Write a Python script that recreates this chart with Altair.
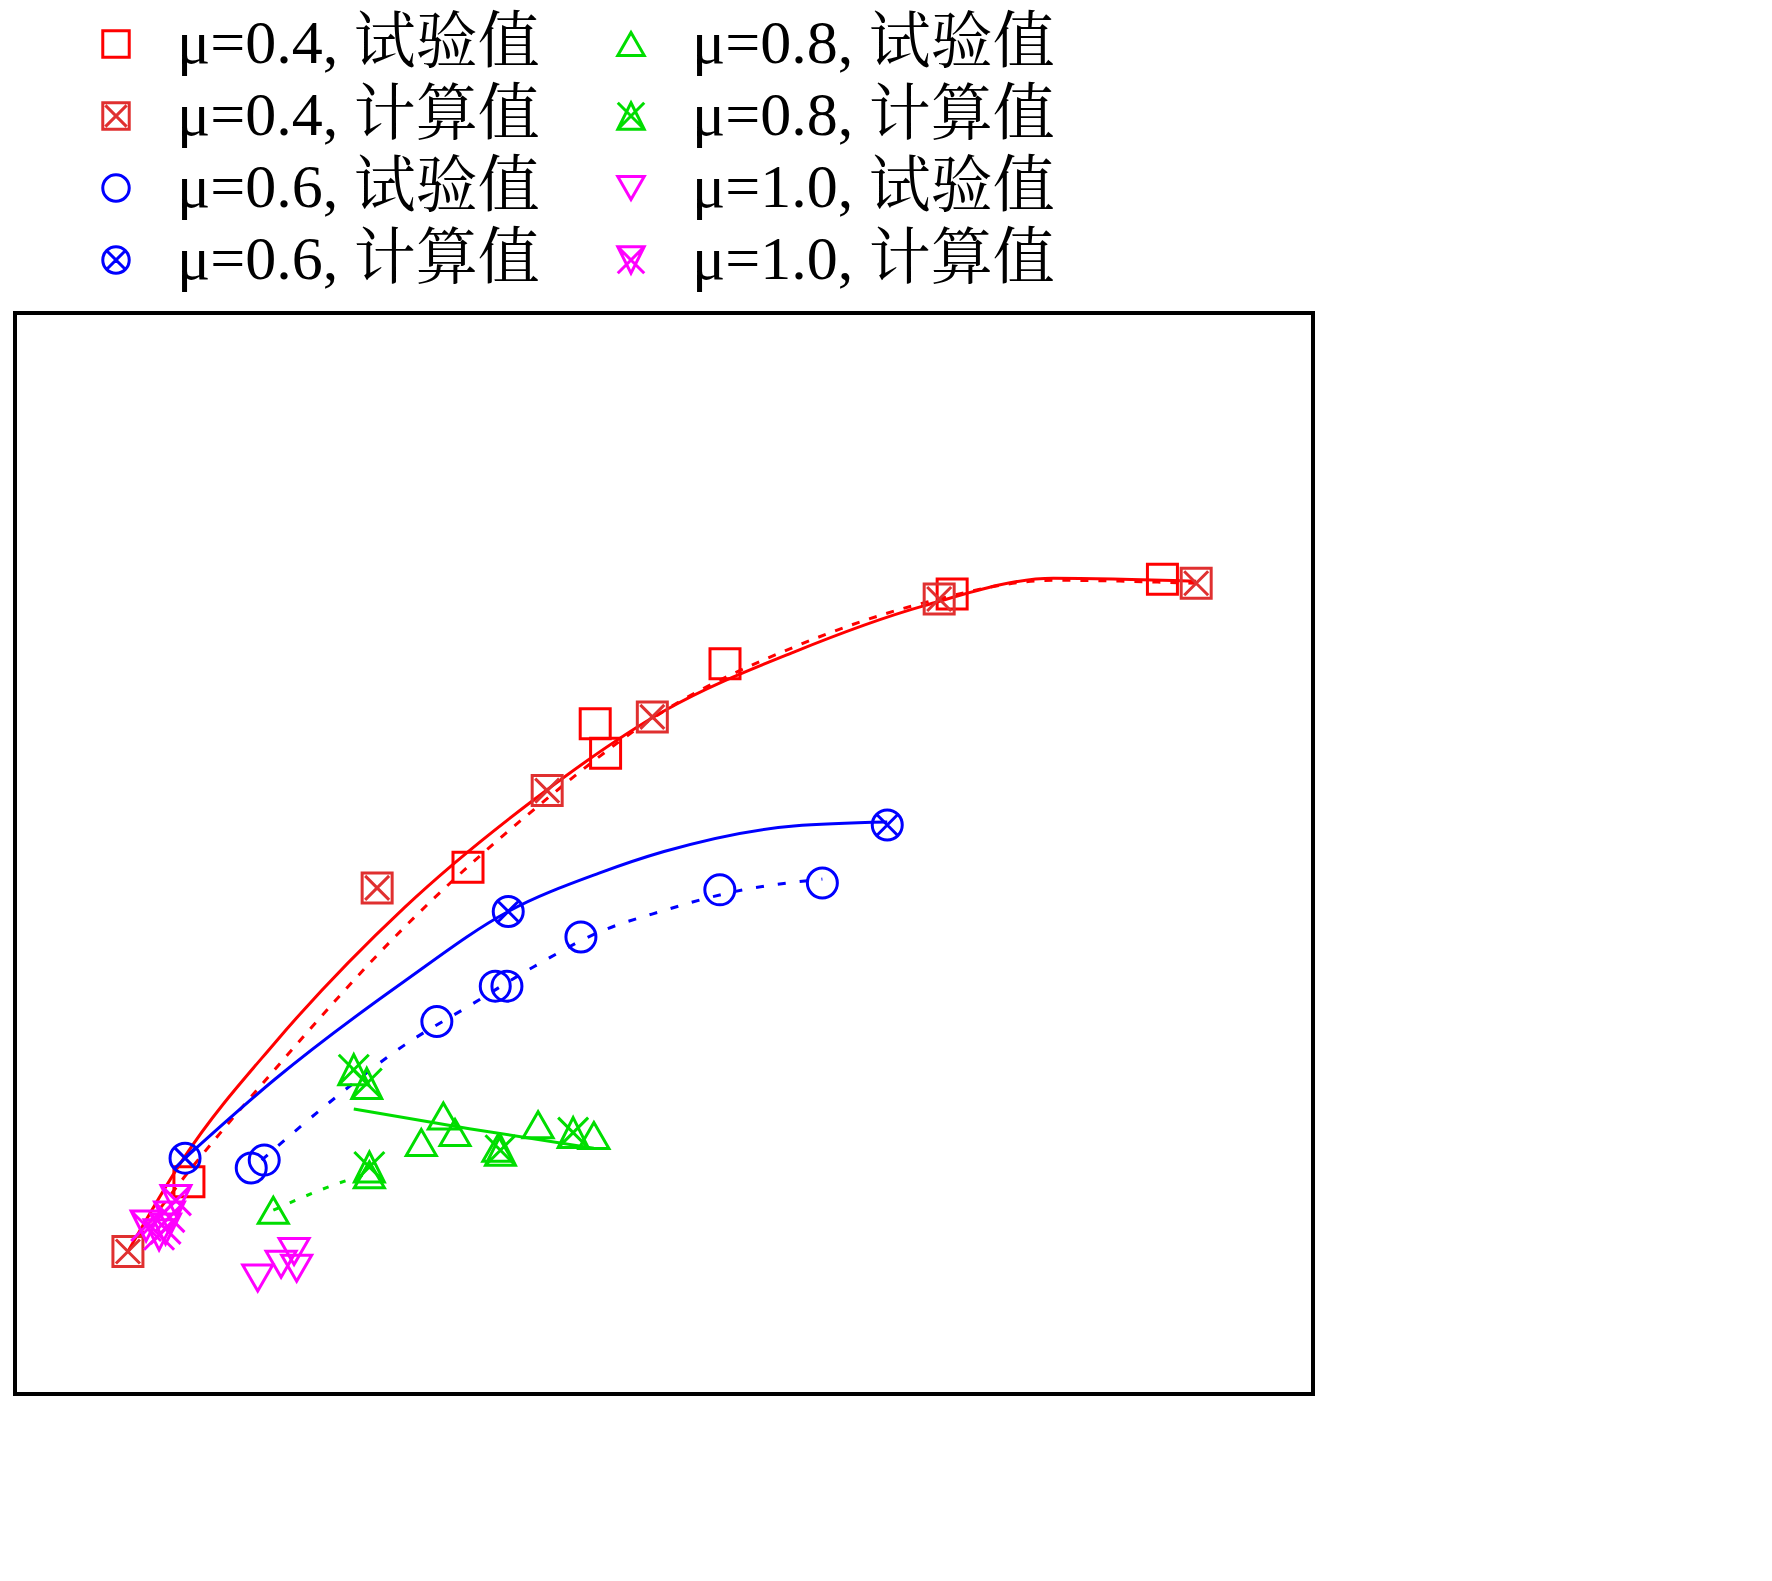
import altair as alt
import pandas as pd

FONT = "Liberation Serif, Noto Serif CJK SC, Noto Sans CJK SC"

series_names = ["μ=0.4, 试验值", "μ=0.4, 计算值", "μ=0.6, 试验值", "μ=0.6, 计算值",
                "μ=0.8, 试验值", "μ=0.8, 计算值", "μ=1.0, 试验值", "μ=1.0, 计算值"]
series_colors = ["#ff0000", "#e03030", "#0000ff", "#0000ff", "#00dd00", "#00dd00", "#ff00ff", "#ff00ff"]
X = " M-0.8,-0.8L0.8,0.8 M0.8,-0.8L-0.8,0.8"
series_shapes = [
    "M-1,-1H1V1H-1Z",
    "M-1,-1H1V1H-1Z" + X,
    "circle",
    "M-1,0A1,1 0 1,0 1,0A1,1 0 1,0 -1,0" + " M-0.7,-0.7L0.7,0.7 M0.7,-0.7L-0.7,0.7",
    "triangle-up",
    "M0,-1L1,1H-1Z M-1,-1L1,1 M1,-1L-1,1",
    "triangle-down",
    "M-1,-1H1L0,1Z M-1,-1L1,1 M1,-1L-1,1",
]

# points
r_test_x = [0.0134, 0.0349, 0.0447, 0.0455, 0.0547, 0.0722, 0.0884]
r_test_y = [2.16, 5.36, 6.82, 6.52, 7.43, 8.14, 8.29]
r_calc_x = [0.0087, 0.0279, 0.0410, 0.0491, 0.0712, 0.0910]
r_calc_y = [1.45, 5.15, 6.14, 6.89, 8.09, 8.25]
b_test_x = [0.0182, 0.0192, 0.0325, 0.0370, 0.0379, 0.0436, 0.0543, 0.0622]
b_test_y = [2.30, 2.38, 3.79, 4.15, 4.15, 4.65, 5.13, 5.20]
b_calc_x = [0.0131, 0.0380, 0.0672]
b_calc_y = [2.40, 4.91, 5.79]
g_test_x = [0.0199, 0.0273, 0.0313, 0.0330, 0.0339, 0.0372, 0.0403, 0.0446]
g_test_y = [1.87, 2.23, 2.56, 2.83, 2.66, 2.50, 2.74, 2.63]
g_calc_x = [0.0261, 0.0271, 0.0273, 0.0374, 0.0430]
g_calc_y = [3.30, 3.16, 2.31, 2.48, 2.66]
m_test_x = [0.0187, 0.0205, 0.0215, 0.0217]
m_test_y = [1.18, 1.32, 1.45, 1.28]
m_calc_x = [0.0101, 0.0111, 0.0116, 0.0119, 0.0124]
m_calc_y = [1.71, 1.62, 1.68, 1.80, 1.97]

# fitted lines
r_fit_x = [0.0087, 0.013, 0.020, 0.030, 0.040, 0.050, 0.060, 0.070, 0.080, 0.091]
r_fit_y = [1.45, 2.40, 3.57, 4.95, 6.05, 6.95, 7.55, 8.02, 8.30, 8.27]
r_dash_x = [0.0087, 0.013, 0.020, 0.030, 0.040, 0.050, 0.060, 0.070, 0.080, 0.091]
r_dash_y = [1.45, 2.20, 3.30, 4.75, 5.95, 6.95, 7.60, 8.05, 8.28, 8.25]
b_fit_x = [0.0131, 0.020, 0.030, 0.038, 0.045, 0.050, 0.060, 0.0672]
b_fit_y = [2.40, 3.20, 4.20, 4.91, 5.30, 5.52, 5.78, 5.82]
b_dash_x = [0.0190, 0.025, 0.030, 0.035, 0.040, 0.045, 0.050, 0.055, 0.0622]
b_dash_y = [2.38, 3.05, 3.55, 3.95, 4.35, 4.70, 4.92, 5.10, 5.24]
g_fit_x = [0.0261, 0.0350, 0.0446]
g_fit_y = [2.90, 2.70, 2.50]
g_dash_x = [0.0199, 0.0240, 0.0273]
g_dash_y = [1.87, 2.10, 2.25]
m_fit_x = [0.0098, 0.0124]
m_fit_y = [1.62, 1.97]

groups = [(r_test_x, r_test_y), (r_calc_x, r_calc_y), (b_test_x, b_test_y), (b_calc_x, b_calc_y),
          (g_test_x, g_test_y), (g_calc_x, g_calc_y), (m_test_x, m_test_y), (m_calc_x, m_calc_y)]
rows = []
for name, (xs, ys) in zip(series_names, groups):
    for a, b in zip(xs, ys):
        rows.append({"x": a, "y": b, "series": name})
pts = pd.DataFrame(rows)

lines = [("rf", r_fit_x, r_fit_y, "#ff0000", []),
         ("rd", r_dash_x, r_dash_y, "#ff0000", [8, 10]),
         ("bf", b_fit_x, b_fit_y, "#0000ff", []),
         ("bd", b_dash_x, b_dash_y, "#0000ff", [8, 14]),
         ("gf", g_fit_x, g_fit_y, "#00dd00", []),
         ("gd", g_dash_x, g_dash_y, "#00dd00", [6, 12]),
         ("mf", m_fit_x, m_fit_y, "#ff00ff", [])]

xs_scale = alt.Scale(domain=[0, 0.1], nice=False)
ys_scale = alt.Scale(domain=[0, 11], nice=False)
x_ticks = [i / 100 for i in range(0, 11)]
y_ticks = list(range(1, 11))

x_axis = alt.Axis(values=x_ticks, title="CL/σ", titleFontStyle="italic", titleFont=FONT,
                  titleFontSize=58, titleFontWeight="normal", titlePadding=20,
                  labelFont=FONT, labelFontSize=56, labelPadding=14,
                  labelExpr="round(datum.value*100) % 2 == 0 ? (datum.value == 0 ? '0' : (datum.value == 0.1 ? '0.10' : format(datum.value, '.2f'))) : ''",
                  grid=True, gridDash=[3, 5], gridColor="#888888", gridWidth=2,
                  ticks=False, domain=False)
y_axis = alt.Axis(values=y_ticks, title="L/Dₑ", titleFontStyle="italic", titleFont=FONT,
                  titleFontSize=58, titleFontWeight="normal", titlePadding=30,
                  labelFont=FONT, labelFontSize=56, labelPadding=14,
                  labelExpr="datum.value % 2 == 0 ? datum.value : ''",
                  grid=True, gridDash=[3, 5], gridColor="#888888", gridWidth=2,
                  ticks=False, domain=False)

layers = []
for i, (nm, lx, ly, col, dash) in enumerate(lines):
    df = pd.DataFrame({"x": lx, "y": ly})
    kw = dict(color=col, strokeWidth=3, interpolate="monotone")
    if dash:
        kw["strokeDash"] = dash
    enc = dict(x=alt.X("x:Q", scale=xs_scale, axis=x_axis if i == 0 else None),
               y=alt.Y("y:Q", scale=ys_scale, axis=y_axis if i == 0 else None))
    layers.append(alt.Chart(df).mark_line(**kw).encode(**enc))

points = alt.Chart(pts).mark_point(filled=False, size=900, strokeWidth=3, opacity=1).encode(
    x=alt.X("x:Q", scale=xs_scale, axis=None),
    y=alt.Y("y:Q", scale=ys_scale, axis=None),
    color=alt.Color("series:N", scale=alt.Scale(domain=series_names, range=series_colors),
                    legend=alt.Legend(title=None, orient="none", legendX=70, legendY=-300,
                                      columns=2, columnPadding=60, rowPadding=10,
                                      symbolSize=700, symbolStrokeWidth=3,
                                      labelFont=FONT, labelFontSize=62, labelLimit=600,
                                      labelOffset=30)),
    shape=alt.Shape("series:N", scale=alt.Scale(domain=series_names, range=series_shapes)),
)
layers.append(points)

frame = alt.Chart(pd.DataFrame({"a": [0]})).mark_rect(fill=None, stroke="black", strokeWidth=4).encode(
    x=alt.value(0), x2=alt.value(1298), y=alt.value(0), y2=alt.value(1081))
layers.append(frame)

chart = alt.layer(*layers).properties(width=1298, height=1081).configure_view(stroke=None).configure(
    background="white")
chart.save("out.html", embed_options={"renderer": "svg", "actions": False})
